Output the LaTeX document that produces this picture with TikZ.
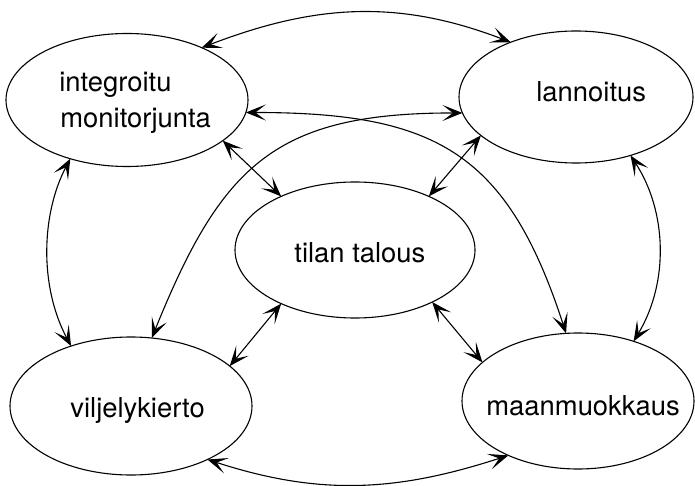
\documentclass[tikz,border=0pt]{standalone}
\usepackage{fontspec}
\setmainfont{TeX Gyre Heros}
\usetikzlibrary{shapes.geometric,arrows.meta}
\begin{document}
\begin{tikzpicture}[x=0.5pt,y=-0.5pt,
  topic/.style={ellipse,draw,line width=0.55pt,inner sep=0pt,outer sep=0pt},
  lbl/.style={anchor=base west,inner sep=0pt,font=\fontsize{13.7}{16}\selectfont},
  link/.style={<->,line width=0.55pt,>={Stealth[length=10pt,width=8pt,inset=5.2pt]}}]
\useasboundingbox (0,0) rectangle (695,486);
\node[topic,minimum width=121pt,minimum height=66.5pt] (I) at (127,100) {};
\node[topic,minimum width=117pt,minimum height=66pt] (L) at (576,97) {};
\node[topic,minimum width=120pt,minimum height=68pt] (T) at (355,250) {};
\node[topic,minimum width=121pt,minimum height=69pt] (V) at (131,406) {};
\node[topic,minimum width=116pt,minimum height=68pt] (M) at (578,401) {};
\node[lbl] (tI1) at (59,92) {integroitu};
\node[lbl] (tI2) at (60,128) {monitorjunta};
\node[lbl] (tL) at (536,102) {lannoitus};
\node[lbl] (tT) at (294,263) {tilan talous};
\node[lbl] (tV) at (70,417) {viljelykierto};
\node[lbl] (tM) at (486,415) {maanmuokkaus};
% straight links with centre
\draw[link] (I.-23) -- (T.144);
\draw[link] (L.202) -- (T.36);
\draw[link] (T.216) -- (V.22);
\draw[link] (T.-34) -- (M.158);
% outer arcs
\draw[link] (I.35) to[out=21,in=159] (L.140);
\draw[link] (V.-35) to[out=-18,in=198] (M.218);
\draw[link] (I.-134) .. controls +(-29,55) and +(-32,-60) .. (V.135);
\draw[link] (L.-47) .. controls +(36,55) and +(36,-60) .. (M.47);
% crossing arcs
\draw[link] (I.-6) to[out=0,in=108,looseness=1.25] (M.100);
\draw[link] (L.188) to[out=180,in=68,looseness=1.25] (V.73);
\end{tikzpicture}
\end{document}
